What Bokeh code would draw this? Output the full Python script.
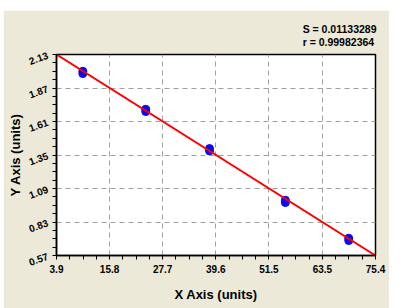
from bokeh.plotting import figure
from bokeh.models import FixedTicker, Range1d
from bokeh.embed import file_html
from bokeh.resources import INLINE

# data
x_vals = [9.8, 23.9, 38.2, 55.2, 69.4]
y_rep1 = [2.000, 1.705, 1.400, 0.999, 0.704]
y_rep2 = [1.982, 1.687, 1.382, 0.981, 0.686]
fit_x = [3.9, 75.4]
fit_y = [2.13, 0.57]
x_ticks = [3.9, 15.8, 27.7, 39.6, 51.5, 63.5, 75.4]
y_ticks = [0.57, 0.83, 1.09, 1.35, 1.61, 1.87, 2.13]
stats_text = ["S = 0.01133289", "r = 0.99982364"]

def minors(t):
    out = []
    for a, b in zip(t[:-1], t[1:]):
        for k in (1, 2, 3):
            out.append(a + (b - a) * k / 4)
    return out

BG = "#ECE9D8"
FONT = "Liberation Sans"

p = figure(width=386, height=298, output_backend="svg", toolbar_location=None,
           x_range=Range1d(3.9, 75.4), y_range=Range1d(0.57, 2.13),
           min_border_left=53, min_border_right=14, min_border_top=44, min_border_bottom=53,
           background_fill_color="white", border_fill_color=BG,
           title="\n".join(stats_text))
p.margin = (10, 0, 0, 3)

p.title.align = "right"
p.title.text_font = FONT
p.title.text_font_style = "bold"
p.title.text_font_size = "10.5px"
p.title.text_color = "black"
p.title.text_line_height = 1.1
p.title.offset = -1
p.title.standoff = 12

p.outline_line_color = "black"
p.outline_line_width = 1.5
p.outline_line_alpha = 1

for ax, ticks in ((p.xaxis[0], x_ticks), (p.yaxis[0], y_ticks)):
    ax.ticker = FixedTicker(ticks=ticks, minor_ticks=minors(ticks))
    ax.axis_line_color = "black"
    ax.axis_line_width = 1.5
    ax.major_tick_line_color = "black"
    ax.minor_tick_line_color = "black"
    ax.major_tick_in = 0
    ax.major_tick_out = 4
    ax.minor_tick_in = 0
    ax.minor_tick_out = 4
    ax.major_label_text_font = FONT
    ax.major_label_text_font_style = "bold"
    ax.major_label_text_font_size = "10px"
    ax.major_label_text_color = "black"
    ax.axis_label_text_font = FONT
    ax.axis_label_text_font_style = "bold"
    ax.axis_label_text_font_size = "13px"
    ax.axis_label_text_color = "black"

p.xaxis[0].major_label_overrides = {t: f"{t:.1f}" for t in x_ticks}
p.yaxis[0].major_label_overrides = {t: f"{t:.2f}" for t in y_ticks}
p.yaxis[0].major_label_orientation = 0.35
p.xaxis[0].axis_label = "X Axis (units)"
p.yaxis[0].axis_label = "Y Axis (units)"
p.xaxis[0].axis_label_standoff = 11
p.yaxis[0].axis_label_standoff = 0

p.xgrid.ticker = FixedTicker(ticks=x_ticks[1:-1])
p.ygrid.ticker = FixedTicker(ticks=y_ticks[1:-1])
for g in (p.xgrid[0], p.ygrid[0]):
    g.grid_line_color = "#A0A0A0"
    g.grid_line_dash = "5 4"
    g.grid_line_width = 1

p.scatter(x_vals, y_rep1, size=8, color="#0A0AF5")
p.scatter(x_vals, y_rep2, size=8, color="#0A0AF5")
p.line(fit_x, fit_y, line_color="#FF0000", line_width=2)

open("out.html", "w").write(file_html(p, INLINE))
